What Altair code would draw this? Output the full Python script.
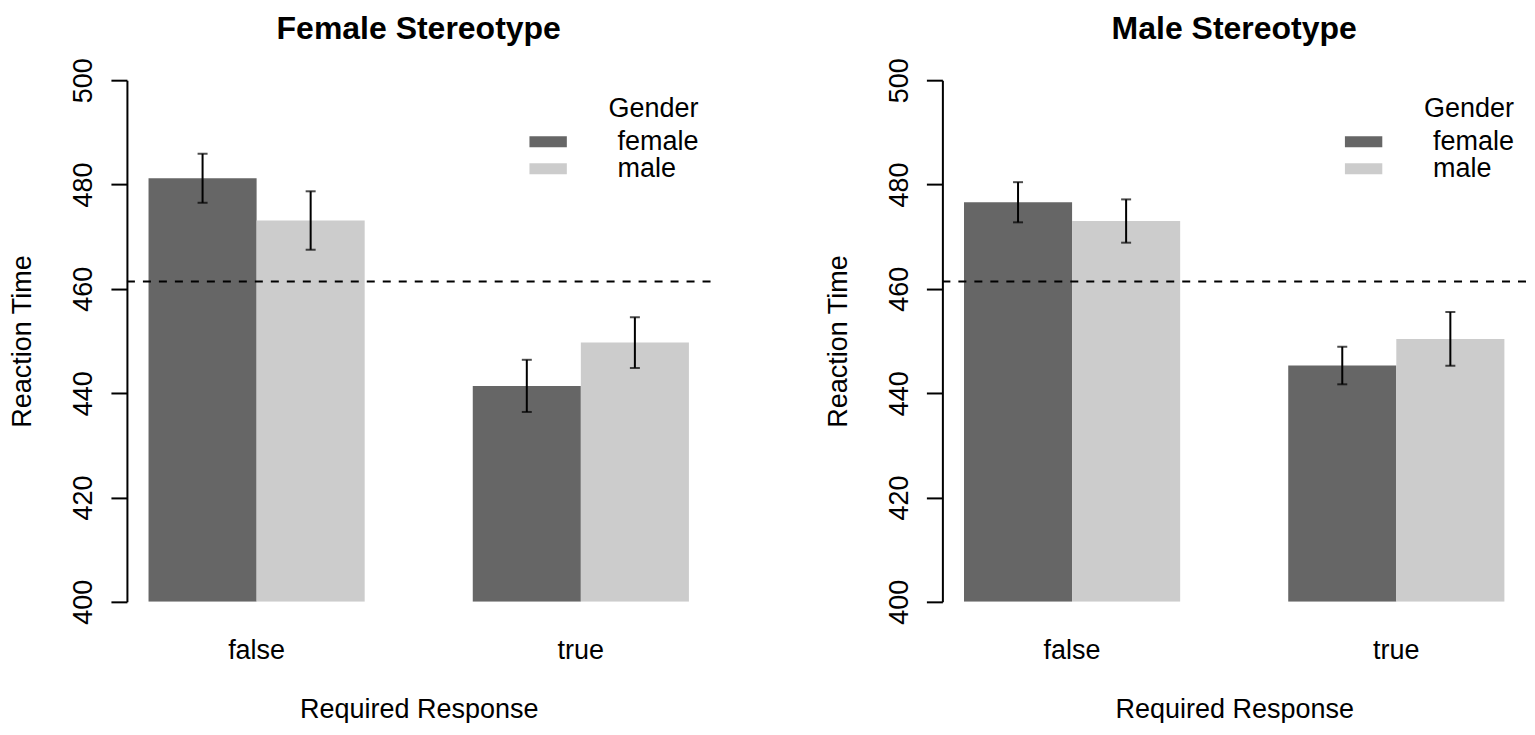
import altair as alt
import pandas as pd

# values (reaction time, ms)
responses = ["false", "false", "true", "true"]
genders = ["female", "male", "female", "male"]

female_stereo_means = [481.2, 473.1, 441.4, 449.7]
female_stereo_se = [4.7, 5.6, 5.0, 4.85]
male_stereo_means = [476.6, 473.0, 445.3, 450.4]
male_stereo_se = [3.85, 4.15, 3.6, 5.15]

grand_mean = [461.4]
y_ticks = [400, 420, 440, 460, 480, 500]
gender_levels = ["female", "male"]
bar_colors = ["#666666", "#cccccc"]

FONT = "Liberation Sans"
# wide flat rectangle for the legend keys
key_shape = "M-3.4,-1H3.4V1H-3.4Z"


def panel(title, means, se):
    df = pd.DataFrame({
        "response": responses,
        "gender": genders,
        "rt": means,
        "lo": [m - s for m, s in zip(means, se)],
        "hi": [m + s for m, s in zip(means, se)],
    })
    base = alt.Chart(df)

    x = alt.X("response:N", title="Required Response",
              scale=alt.Scale(paddingInner=1 / 3, paddingOuter=0.2 / 3),
              axis=alt.Axis(labelAngle=0, domain=False, ticks=False, tickSize=0,
                            labelPadding=36, titlePadding=33))
    xoff = alt.XOffset("gender:N", scale=alt.Scale(paddingInner=0, paddingOuter=0))
    yscale = alt.Scale(domain=[400, 500], nice=False, zero=False)

    bars = base.mark_bar(clip=True).encode(
        x=x,
        xOffset=xoff,
        y=alt.Y("rt:Q", title="Reaction Time", scale=yscale,
                axis=alt.Axis(values=y_ticks, grid=False, tickSize=16, tickWidth=2,
                              domainWidth=2, domainColor="black", tickColor="black",
                              labelAngle=270, labelAlign="center", labelBaseline="bottom",
                              labelPadding=13, labelFlush=False, labelOverlap=False,
                              titlePadding=33)),
        y2=alt.datum(400),
        color=alt.Color("gender:N", title="Gender",
                        scale=alt.Scale(domain=gender_levels, range=bar_colors),
                        legend=alt.Legend(orient="none", legendX=395, legendY=16,
                                          symbolType=key_shape, symbolSize=121,
                                          symbolStrokeWidth=0, symbolOffset=13,
                                          labelOffset=56, titleAnchor="end",
                                          titlePadding=5, rowPadding=-2.5)),
    )

    stems = base.mark_rule(color="black", strokeWidth=2).encode(
        x=x, xOffset=xoff, y=alt.Y("lo:Q", scale=yscale), y2="hi:Q")
    caps_lo = base.mark_tick(color="black", size=10, thickness=2).encode(
        x=x, xOffset=xoff, y=alt.Y("lo:Q", scale=yscale))
    caps_hi = base.mark_tick(color="black", size=10, thickness=2).encode(
        x=x, xOffset=xoff, y=alt.Y("hi:Q", scale=yscale))

    mean_line = alt.Chart(pd.DataFrame({"m": grand_mean})).mark_rule(
        color="black", strokeWidth=2, strokeDash=[8, 8]
    ).encode(y=alt.Y("m:Q", scale=yscale))

    return alt.layer(bars, mean_line, stems, caps_lo, caps_hi).properties(
        width=584, height=522, title=title)


left = panel("Female Stereotype", female_stereo_means, female_stereo_se)
right = panel("Male Stereotype", male_stereo_means, male_stereo_se)

chart = alt.hconcat(left, right, spacing=113).resolve_scale(
    color="independent"
).resolve_legend(
    color="independent"
).properties(
    padding={"left": 1, "top": 4, "right": 0, "bottom": 0}
).configure_view(
    strokeWidth=0
).configure_axis(
    labelFont=FONT, titleFont=FONT, labelFontSize=27, titleFontSize=27,
    labelColor="black", titleColor="black", titleFontWeight="normal"
).configure_legend(
    labelFont=FONT, titleFont=FONT, labelFontSize=27, titleFontSize=27,
    labelColor="black", titleColor="black", titleFontWeight="normal"
).configure_title(
    font=FONT, fontSize=32, fontWeight="bold", color="black",
    anchor="middle", frame="group", offset=12
)

chart.save("out.html", embed_options={"renderer": "svg", "actions": False})
